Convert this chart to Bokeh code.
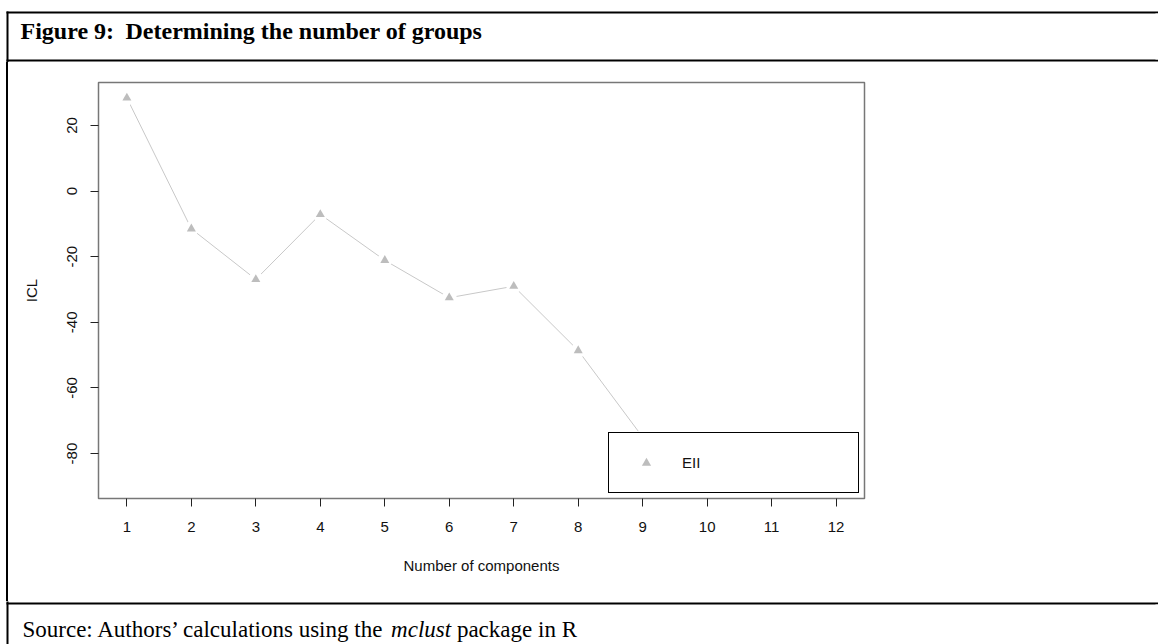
from bokeh.plotting import figure
from bokeh.layouts import column, row
from bokeh.models import Range1d, FixedTicker, Label, Legend, LegendItem
from bokeh.embed import file_html
from bokeh.resources import INLINE

# ---- data ----
components = [1, 2, 3, 4, 5, 6, 7, 8, 9, 10, 11, 12]
icl = [28.4, -11.5, -26.9, -7.1, -21.1, -32.5, -29.0, -48.6, -75.0, -75.5, -82.0, -89.0]
x_ticks = [1, 2, 3, 4, 5, 6, 7, 8, 9, 10, 11, 12]
y_ticks = [-80, -60, -40, -20, 0, 20]
legend_label = "EII"
x_label = "Number of components"
y_label = "ICL"
title_num = "Figure 9:"
title_text = "Determining the number of groups"
source_parts = ["Source: Authors\u2019 calculations using the", "mclust", "package in R"]

# ---- page geometry (pixels) ----
W = 1158
TOP_H = 62
MID_H = 539
BOT_H = 43
BASE_FIX = 7  # Label baseline correction


def band(w, h):
    f = figure(width=w, height=h, x_range=Range1d(0, w), y_range=Range1d(h, 0),
               output_backend="svg", toolbar_location=None, min_border=0,
               x_axis_location=None, y_axis_location=None)
    f.outline_line_color = None
    f.outline_line_alpha = 0
    f.outline_line_width = 0
    f.background_fill_color = "white"
    f.border_fill_color = "white"
    f.grid.visible = False
    return f


# ---- title band ----
top = band(W, TOP_H)
top.quad(left=[6, 6, 6], right=[W + 20, W + 20, 8], top=[11, 59, 11], bottom=[13, 61, TOP_H + 20],
         fill_color="black", line_color=None)
top.quad(left=[W - 3], right=[W + 20], top=[13], bottom=[59], fill_color="white", line_color=None)
TFS = "24px"
top.add_layout(Label(x=20, y=37 - BASE_FIX, text=title_num, text_font="Liberation Serif",
                     text_font_style="bold", text_font_size=TFS, text_color="black",
                     text_baseline="alphabetic", text_align="left"))
top.add_layout(Label(x=125, y=37 - BASE_FIX, text=title_text, text_font="Liberation Serif",
                     text_font_style="bold", text_font_size=TFS, text_color="black",
                     text_baseline="alphabetic", text_align="left"))

# ---- chart ----
FL, FR, FT, FB = 98, 864, 82 - TOP_H, 498 - TOP_H
xpad = 0.04 * (max(components) - min(components))
ypad = 0.04 * (max(icl) - min(icl))
X0, X1 = min(components) - xpad, max(components) + xpad
Y0, Y1 = min(icl) - ypad, max(icl) + ypad

p = figure(width=W, height=MID_H, output_backend="svg", toolbar_location=None,
           x_range=Range1d(X0, X1), y_range=Range1d(Y0, Y1),
           min_border_left=FL, min_border_right=W - FR,
           min_border_top=FT, min_border_bottom=MID_H - FB,
           styles={"background": "linear-gradient(to right, white 0px, white 6px, black 6px, black 8px, white 8px)"})
p.background_fill_color = "white"
p.border_fill_color = None
p.outline_line_color = "#777777"
p.outline_line_width = 1.5
p.xgrid.visible = False
p.ygrid.visible = False

for ax in (p.xaxis[0], p.yaxis[0]):
    ax.axis_line_color = None
    ax.major_tick_line_color = "#222222"
    ax.major_tick_line_width = 1
    ax.major_tick_out = 8
    ax.major_tick_in = 0
    ax.minor_tick_line_color = None
    ax.major_label_text_font = "Liberation Sans"
    ax.major_label_text_font_size = "15px"
    ax.major_label_text_color = "#111111"
    ax.axis_label_text_font = "Liberation Sans"
    ax.axis_label_text_font_size = "15px"
    ax.axis_label_text_font_style = "normal"
    ax.axis_label_text_color = "#111111"

p.xaxis.ticker = FixedTicker(ticks=x_ticks)
p.yaxis.ticker = FixedTicker(ticks=y_ticks)
p.yaxis.major_label_overrides = {t: str(t) for t in y_ticks}
p.yaxis.major_label_orientation = "vertical"
p.xaxis.major_label_standoff = 15
p.yaxis.major_label_standoff = 13
p.xaxis.axis_label = x_label
p.yaxis.axis_label = y_label
p.xaxis.axis_label_standoff = 22
p.yaxis.axis_label_standoff = 25

p.line(components, icl, line_color="#c8c8c8", line_width=1)
p.scatter(components, icl, marker="circle", size=15, fill_color="white", line_color=None)
tri = p.scatter(components, icl, marker="triangle", size=9, fill_color="#bdbdbd", line_color=None)

legend = Legend(items=[LegendItem(label=legend_label, renderers=[tri])],
                location=(510, 5), padding=18, glyph_width=38, glyph_height=23,
                label_standoff=17, label_width=158, spacing=0, margin=0,
                border_line_color="black", border_line_width=1, border_line_alpha=1,
                background_fill_color="white", background_fill_alpha=1,
                label_text_font="Liberation Sans", label_text_font_size="15px",
                label_text_color="#111111")
p.add_layout(legend)

# ---- source band ----
bot = band(W, BOT_H)
bot.quad(left=[6, 6], right=[W + 20, 8], top=[1, -20], bottom=[3, BOT_H + 20],
         fill_color="black", line_color=None)
bot.quad(left=[W - 3], right=[W + 20], top=[3], bottom=[BOT_H + 20], fill_color="white", line_color=None)
fs = 23
sx = 22
em = [16.026, 2.611, 0.25]   # Times widths (em) of the first part incl. space, of "mclust", of a space
styles = ["normal", "italic", "normal"]
pos = [sx, sx + em[0] * fs, sx + (em[0] + em[1] + em[2]) * fs]
for txt, st, xx in zip(source_parts, styles, pos):
    bot.add_layout(Label(x=xx, y=35 - BASE_FIX, text=txt, text_font="Liberation Serif",
                         text_font_style=st, text_font_size=f"{fs}px", text_color="black",
                         text_baseline="alphabetic", text_align="left"))

layout = column(top, row(p, spacing=0), bot, spacing=0)
open("out.html", "w").write(file_html(layout, INLINE))
